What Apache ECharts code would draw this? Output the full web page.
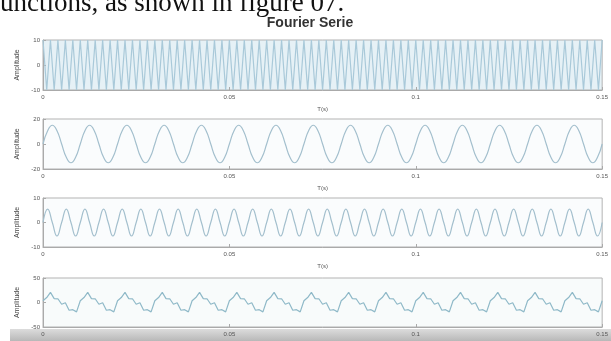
<!DOCTYPE html>
<html>
<head>
<meta charset="utf-8">
<script src="https://cdn.jsdelivr.net/npm/echarts@6/dist/echarts.min.js"></script>
<style>
html,body{margin:0;padding:0;background:#fff;}
#chart{width:611px;height:341px;}
</style>
</head>
<body>
<div id="chart"></div>
<script>
// ---- data ----
var titleText = 'Fourier Serie';
var headText = 'unctions, as shown in figure 07.';
var xTicks = [0, 0.05, 0.1, 0.15];
var yTicks1 = [-10, 0, 10];
var yTicks2 = [-20, 0, 20];
var yTicks3 = [-10, 0, 10];
var yTicks4 = [-50, 0, 50];

// subplot 1 : sampled every 1 ms
var step1 = 0.001;
var y1 = [
10,-10,10,-10,10,-10,10,-10,10,-10,
10,-10,10,-10,10,-10,10,-10,10,-10,
10,-10,10,-10,10,-10,10,-10,10,-10,
10,-10,10,-10,10,-10,10,-10,10,-10,
10,-10,10,-10,10,-10,10,-10,10,-10,
10,-10,10,-10,10,-10,10,-10,10,-10,
10,-10,10,-10,10,-10,10,-10,10,-10,
10,-10,10,-10,10,-10,10,-10,10,-10,
10,-10,10,-10,10,-10,10,-10,10,-10,
10,-10,10,-10,10,-10,10,-10,10,-10,
10,-10,10,-10,10,-10,10,-10,10,-10,
10,-10,10,-10,10,-10,10,-10,10,-10,
10,-10,10,-10,10,-10,10,-10,10,-10,
10,-10,10,-10,10,-10,10,-10,10,-10,
10,-10,10,-10,10,-10,10,-10,10,-10,
10];

// subplot 2 : sampled every 1.25 ms
var step2 = 0.00125;
var y2 = [
0,10.6,15,10.6,0,-10.6,-15,-10.6,
0,10.6,15,10.6,0,-10.6,-15,-10.6,
0,10.6,15,10.6,0,-10.6,-15,-10.6,
0,10.6,15,10.6,0,-10.6,-15,-10.6,
0,10.6,15,10.6,0,-10.6,-15,-10.6,
0,10.6,15,10.6,0,-10.6,-15,-10.6,
0,10.6,15,10.6,0,-10.6,-15,-10.6,
0,10.6,15,10.6,0,-10.6,-15,-10.6,
0,10.6,15,10.6,0,-10.6,-15,-10.6,
0,10.6,15,10.6,0,-10.6,-15,-10.6,
0,10.6,15,10.6,0,-10.6,-15,-10.6,
0,10.6,15,10.6,0,-10.6,-15,-10.6,
0,10.6,15,10.6,0,-10.6,-15,-10.6,
0,10.6,15,10.6,0,-10.6,-15,-10.6,
0,10.6,15,10.6,0,-10.6,-15,-10.6,
0];

// subplot 3 : sampled every 1.25 ms
var step3 = 0.00125;
var y3 = [
0,5.5,0,-5.5,0,5.5,0,-5.5,0,5.5,0,-5.5,0,5.5,0,-5.5,0,5.5,0,-5.5,
0,5.5,0,-5.5,0,5.5,0,-5.5,0,5.5,0,-5.5,0,5.5,0,-5.5,0,5.5,0,-5.5,
0,5.5,0,-5.5,0,5.5,0,-5.5,0,5.5,0,-5.5,0,5.5,0,-5.5,0,5.5,0,-5.5,
0,5.5,0,-5.5,0,5.5,0,-5.5,0,5.5,0,-5.5,0,5.5,0,-5.5,0,5.5,0,-5.5,
0,5.5,0,-5.5,0,5.5,0,-5.5,0,5.5,0,-5.5,0,5.5,0,-5.5,0,5.5,0,-5.5,
0,5.5,0,-5.5,0,5.5,0,-5.5,0,5.5,0,-5.5,0,5.5,0,-5.5,0,5.5,0,-5.5,
0];

// subplot 4 : sampled every 1 ms
var step4 = 0.001;
var y4 = [
3.5,10.1,20.7,7.8,7.6,-3.5,-0.6,-15.8,-14.7,-19.1,
3.5,10.1,20.7,7.8,7.6,-3.5,-0.6,-15.8,-14.7,-19.1,
3.5,10.1,20.7,7.8,7.6,-3.5,-0.6,-15.8,-14.7,-19.1,
3.5,10.1,20.7,7.8,7.6,-3.5,-0.6,-15.8,-14.7,-19.1,
3.5,10.1,20.7,7.8,7.6,-3.5,-0.6,-15.8,-14.7,-19.1,
3.5,10.1,20.7,7.8,7.6,-3.5,-0.6,-15.8,-14.7,-19.1,
3.5,10.1,20.7,7.8,7.6,-3.5,-0.6,-15.8,-14.7,-19.1,
3.5,10.1,20.7,7.8,7.6,-3.5,-0.6,-15.8,-14.7,-19.1,
3.5,10.1,20.7,7.8,7.6,-3.5,-0.6,-15.8,-14.7,-19.1,
3.5,10.1,20.7,7.8,7.6,-3.5,-0.6,-15.8,-14.7,-19.1,
3.5,10.1,20.7,7.8,7.6,-3.5,-0.6,-15.8,-14.7,-19.1,
3.5,10.1,20.7,7.8,7.6,-3.5,-0.6,-15.8,-14.7,-19.1,
3.5,10.1,20.7,7.8,7.6,-3.5,-0.6,-15.8,-14.7,-19.1,
3.5,10.1,20.7,7.8,7.6,-3.5,-0.6,-15.8,-14.7,-19.1,
3.5,10.1,20.7,7.8,7.6,-3.5,-0.6,-15.8,-14.7,-19.1,
3.5];

// ---- chart ----
function pairs(arr, step) {
  return arr.map(function (v, i) { return [i * step, v]; });
}
function fmt(v) { return String(parseFloat(v.toFixed(4))); }

var grids = [
  {left: 43, top: 40, width: 561, height: 50},
  {left: 43, top: 119, width: 561, height: 50},
  {left: 43, top: 198, width: 561, height: 49},
  {left: 43, top: 278, width: 561, height: 49}
];
var gridBg = ['#e6f1f6', '#fafcfd', '#fafcfd', '#f8fbfb'];
var yTickSets = [yTicks1, yTicks2, yTicks3, yTicks4];
var seriesData = [pairs(y1, step1), pairs(y2, step2), pairs(y3, step3), pairs(y4, step4)];
var smoothFlags = [false, true, true, false];
var lineColors = ['#a9c9d9', '#a3bfcd', '#a3bfcd', '#8fb9c8'];
var font = 'Liberation Sans, Arial, sans-serif';

var option = {
  animation: false,
  backgroundColor: '#ffffff',
  title: {
    text: titleText,
    left: 305, top: 11, textAlign: 'center',
    textStyle: {fontFamily: font, fontSize: 14, fontWeight: 'bold', color: '#333'}
  },
  grid: grids.map(function (g, i) {
    return Object.assign({show: true, borderColor: '#b3b3b3', borderWidth: 1, backgroundColor: gridBg[i], containLabel: false}, g);
  }),
  xAxis: grids.map(function (g, i) {
    return {
      type: 'value', gridIndex: i,
      min: xTicks[0], max: xTicks[xTicks.length - 1], interval: xTicks[1] - xTicks[0],
      name: i < 3 ? 'T(s)' : '', nameLocation: 'middle', nameGap: 16,
      nameTextStyle: {fontFamily: font, fontSize: 6, color: '#555'},
      axisLine: {show: true, onZero: false, lineStyle: {color: '#aaa'}},
      axisTick: {show: true, inside: true, length: 3, lineStyle: {color: '#aaa'}},
      axisLabel: {fontFamily: font, fontSize: 6, color: '#555', margin: 4, formatter: fmt},
      splitLine: {show: false}
    };
  }),
  yAxis: grids.map(function (g, i) {
    var t = yTickSets[i];
    return {
      type: 'value', gridIndex: i,
      min: t[0], max: t[t.length - 1], interval: t[1] - t[0],
      name: 'Amplitude', nameLocation: 'middle', nameGap: 18,
      nameTextStyle: {fontFamily: font, fontSize: 7, color: '#444'},
      axisLine: {show: true, onZero: false, lineStyle: {color: '#aaa'}},
      axisTick: {show: true, inside: true, length: 3, lineStyle: {color: '#aaa'}},
      axisLabel: {fontFamily: font, fontSize: 6, color: '#555', margin: 3, formatter: fmt},
      splitLine: {show: false}
    };
  }),
  series: seriesData.map(function (d, i) {
    return {
      type: 'line', xAxisIndex: i, yAxisIndex: i, data: d,
      showSymbol: false, smooth: smoothFlags[i],
      lineStyle: {color: lineColors[i], width: 1.2},
      itemStyle: {color: lineColors[i]}
    };
  }),
  graphic: {
    elements: [
      {
        type: 'text', left: 0, top: -10, z: 10,
        style: {text: headText, fontFamily: 'Liberation Serif, Times New Roman, serif', fontSize: 27, fill: '#111'}
      },
      {
        type: 'rect', left: 10, top: 329, z: -10, silent: true,
        shape: {width: 601, height: 12},
        style: {fill: new echarts.graphic.LinearGradient(0, 0, 0, 1, [
          {offset: 0, color: '#dcdcdc'}, {offset: 1, color: '#b8b8b8'}
        ])}
      }
    ]
  }
};

var chart = echarts.init(document.getElementById('chart'), null, {renderer: 'canvas'});
chart.setOption(option);
</script>
</body>
</html>
